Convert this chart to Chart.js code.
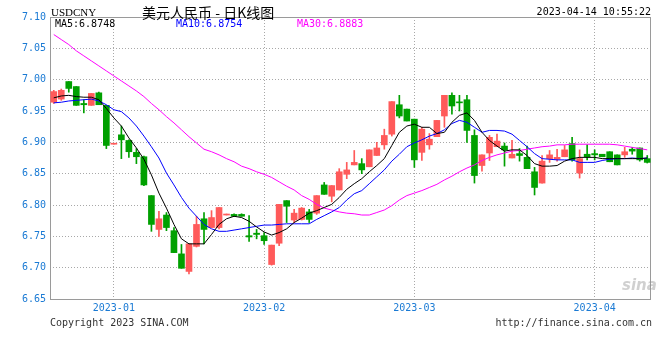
<!DOCTYPE html>
<html>
<head>
<meta charset="utf-8">
<script src="https://cdn.jsdelivr.net/npm/chart.js@4.4.1/dist/chart.umd.min.js"></script>
<style>
  html, body { margin: 0; padding: 0; background: #fff; }
  #wrap { position: relative; width: 660px; height: 360px; overflow: hidden; }
  #wrap canvas { position: absolute; left: 0; top: 0; }
  .txt { position: absolute; white-space: nowrap; font-family: "DejaVu Sans Mono", monospace; font-size: 10px; line-height: 12px; color: #000; }
</style>
</head>
<body>
<div id="wrap">
  <canvas id="chart-kline" width="660" height="360"></canvas>
  <div class="txt" style="left:51px;top:6px;font-family:'Liberation Serif',serif;font-size:11px;">USDCNY</div>
  <div class="txt" style="left:142px;top:4px;font-family:'Noto Sans CJK SC',sans-serif;font-size:14px;line-height:16px;">美元人民币 - 日K线图</div>
  <div class="txt" style="right:9px;top:6px;">2023-04-14 10:55:22</div>
  <div class="txt" id="ma5-label" style="left:55px;top:18px;color:#000;"></div>
  <div class="txt" id="ma10-label" style="left:176px;top:18px;color:#0000ff;"></div>
  <div class="txt" id="ma30-label" style="left:297px;top:18px;color:#ff00ff;"></div>
  <div class="txt" style="left:622px;top:279px;font-family:'DejaVu Sans',sans-serif;font-size:15px;font-weight:bold;font-style:italic;color:rgba(150,150,150,0.45);">sina</div>
  <div class="txt" style="left:50px;top:317px;color:#333;">Copyright 2023 SINA.COM</div>
  <div class="txt" style="right:8px;top:317px;color:#333;">http://finance.sina.com.cn</div>
</div>
<script>
(function() {
  // trading days shown (Dec 2022 .. Apr 2023), one candle each
  const days = [
    '12-21','12-22','12-23','12-26','12-27','12-28','12-29','12-30',
    '01-03','01-04','01-05','01-06','01-09','01-10','01-11','01-12','01-13','01-16',
    '01-17','01-18','01-19','01-20','01-26','01-27','01-28','01-29','01-30','01-31',
    '02-01','02-02','02-03','02-06','02-07','02-08','02-09','02-10','02-13','02-14',
    '02-15','02-16','02-17','02-20','02-21','02-22','02-23','02-24','02-27','02-28',
    '03-01','03-02','03-03','03-06','03-07','03-08','03-09','03-10','03-13','03-14',
    '03-15','03-16','03-17','03-20','03-21','03-22','03-23','03-24','03-27','03-28',
    '03-29','03-30','03-31','03-31b',
    '04-03','04-04','04-06','04-07','04-10','04-11','04-12','04-13'
  ];

  const openP = [
    6.964, 6.969, 6.997, 6.989, 6.962, 6.959, 6.979, 6.959, 6.897, 6.912,
    6.903, 6.884, 6.877, 6.815, 6.761, 6.784, 6.759, 6.722, 6.694, 6.734,
    6.778, 6.764, 6.764, 6.784, 6.785, 6.785, 6.751, 6.755, 6.751, 6.705,
    6.739, 6.807, 6.776, 6.777, 6.789, 6.787, 6.832, 6.814, 6.824, 6.849,
    6.864, 6.866, 6.861, 6.879, 6.896, 6.913, 6.960, 6.953, 6.937, 6.884,
    6.896, 6.909, 6.942, 6.975, 6.964, 6.968, 6.911, 6.863, 6.883, 6.893,
    6.894, 6.875, 6.882, 6.876, 6.853, 6.835, 6.874, 6.873, 6.877, 6.898,
    6.851, 6.881, 6.882, 6.881, 6.885, 6.880, 6.880, 6.889, 6.891, 6.874
  ];
  const highP = [
    6.983, 6.985, 6.997, 6.989, 6.968, 6.978, 6.980, 6.959, 6.898, 6.926,
    6.904, 6.890, 6.878, 6.815, 6.790, 6.788, 6.764, 6.737, 6.738, 6.782,
    6.788, 6.791, 6.796, 6.785, 6.786, 6.786, 6.783, 6.761, 6.756, 6.736,
    6.801, 6.807, 6.793, 6.796, 6.793, 6.815, 6.836, 6.831, 6.858, 6.868,
    6.887, 6.874, 6.888, 6.900, 6.921, 6.965, 6.975, 6.953, 6.937, 6.924,
    6.914, 6.935, 6.975, 6.979, 6.975, 6.975, 6.920, 6.880, 6.911, 6.913,
    6.899, 6.903, 6.890, 6.894, 6.860, 6.879, 6.887, 6.889, 6.895, 6.908,
    6.888, 6.896, 6.888, 6.881, 6.885, 6.880, 6.892, 6.892, 6.891, 6.879
  ];
  const lowP = [
    6.962, 6.967, 6.980, 6.959, 6.947, 6.959, 6.960, 6.890, 6.897, 6.874,
    6.876, 6.866, 6.831, 6.758, 6.750, 6.759, 6.724, 6.699, 6.690, 6.733,
    6.738, 6.764, 6.762, 6.784, 6.782, 6.782, 6.742, 6.746, 6.737, 6.704,
    6.735, 6.772, 6.772, 6.776, 6.772, 6.785, 6.817, 6.805, 6.824, 6.842,
    6.864, 6.850, 6.861, 6.879, 6.889, 6.910, 6.939, 6.934, 6.860, 6.871,
    6.889, 6.909, 6.924, 6.945, 6.950, 6.900, 6.835, 6.854, 6.871, 6.893,
    6.862, 6.875, 6.870, 6.858, 6.816, 6.835, 6.868, 6.870, 6.877, 6.870,
    6.843, 6.872, 6.872, 6.877, 6.869, 6.864, 6.876, 6.881, 6.870, 6.867
  ];
  const closeP = [
    6.981, 6.983, 6.986, 6.959, 6.960, 6.978, 6.960, 6.895, 6.898, 6.904,
    6.885, 6.877, 6.832, 6.769, 6.778, 6.764, 6.724, 6.699, 6.738, 6.769,
    6.761, 6.780, 6.796, 6.785, 6.782, 6.782, 6.749, 6.753, 6.743, 6.736,
    6.801, 6.798, 6.787, 6.795, 6.777, 6.815, 6.817, 6.831, 6.853, 6.856,
    6.868, 6.856, 6.888, 6.891, 6.911, 6.965, 6.942, 6.934, 6.872, 6.921,
    6.905, 6.935, 6.975, 6.958, 6.963, 6.919, 6.847, 6.880, 6.908, 6.902,
    6.888, 6.881, 6.879, 6.858, 6.828, 6.870, 6.880, 6.876, 6.888, 6.872,
    6.874, 6.877, 6.880, 6.877, 6.869, 6.864, 6.885, 6.886, 6.872, 6.868
  ];

  // moving averages as drawn on the chart (they include days before the window)
  const ma5 = [
    6.971, 6.974, 6.975, 6.973, 6.972, 6.972, 6.968, 6.954, 6.939, 6.926,
    6.907, 6.891, 6.873, 6.848, 6.819, 6.795, 6.769, 6.746, 6.738, 6.738,
    6.738, 6.753, 6.769, 6.778, 6.782, 6.780, 6.774, 6.765, 6.757, 6.752,
    6.756, 6.762, 6.772, 6.779, 6.787, 6.791, 6.796, 6.801, 6.812, 6.825,
    6.834, 6.842, 6.853, 6.863, 6.874, 6.895, 6.916, 6.926, 6.929, 6.924,
    6.924, 6.914, 6.916, 6.932, 6.943, 6.947, 6.935, 6.916, 6.903, 6.894,
    6.886, 6.888, 6.888, 6.879, 6.866, 6.862, 6.862, 6.863, 6.870, 6.874,
    6.876, 6.876, 6.876, 6.874, 6.874, 6.874, 6.874, 6.874, 6.874, 6.875
  ];
  const ma10 = [
    6.963, 6.964, 6.966, 6.967, 6.968, 6.969, 6.966, 6.960, 6.952, 6.949,
    6.939, 6.926, 6.910, 6.893, 6.875, 6.851, 6.832, 6.812, 6.795, 6.782,
    6.769, 6.762, 6.758, 6.758, 6.760, 6.762, 6.764, 6.766, 6.768, 6.768,
    6.769, 6.770, 6.770, 6.770, 6.770, 6.777, 6.783, 6.789, 6.796, 6.808,
    6.818, 6.823, 6.834, 6.845, 6.856, 6.870, 6.881, 6.893, 6.899, 6.904,
    6.910, 6.914, 6.920, 6.930, 6.935, 6.932, 6.924, 6.916, 6.919, 6.919,
    6.918, 6.913, 6.903, 6.893, 6.882, 6.874, 6.873, 6.872, 6.872, 6.872,
    6.868, 6.868, 6.868, 6.871, 6.873, 6.874, 6.874, 6.875, 6.874, 6.875
  ];
  const ma30 = [
    7.072, 7.064, 7.056, 7.046, 7.038, 7.030, 7.022, 7.014, 7.006, 6.998,
    6.990, 6.982, 6.973, 6.962, 6.952, 6.941, 6.931, 6.920, 6.909, 6.899,
    6.889, 6.885, 6.880, 6.874, 6.869, 6.862, 6.858, 6.853, 6.849, 6.844,
    6.837, 6.830, 6.824, 6.815, 6.809, 6.801, 6.795, 6.792, 6.789, 6.787,
    6.786, 6.784, 6.784, 6.788, 6.792, 6.799, 6.808, 6.815, 6.819, 6.823,
    6.828, 6.833, 6.840, 6.846, 6.853, 6.859, 6.864, 6.871, 6.876, 6.880,
    6.883, 6.886, 6.887, 6.889, 6.891, 6.893, 6.894, 6.896, 6.896, 6.897,
    6.897, 6.897, 6.897, 6.897, 6.897, 6.896, 6.894, 6.892, 6.890, 6.888
  ];

  // legend values shown in the header
  const maLegend = ['MA5:6.8748', 'MA10:6.8754', 'MA30:6.8883'];

  // month ticks on the x axis (index of the first candle of each month)
  const monthTickIdx = [8, 28, 48, 72];
  const monthTickLabels = ['2023-01', '2023-02', '2023-03', '2023-04'];

  const UP = '#ff5a5a';
  const DOWN = '#00a000';
  const AXIS_TXT = '#1a7ad4';
  const GRID = '#a8a8a8';

  document.getElementById('ma5-label').textContent = maLegend[0];
  document.getElementById('ma10-label').textContent = maLegend[1];
  document.getElementById('ma30-label').textContent = maLegend[2];

  const candleColor = closeP.map((c, i) => (c >= openP[i] ? UP : DOWN));
  const bodies = openP.map((o, i) => [o, closeP[i]]);
  const wicks = lowP.map((l, i) => [l, highP[i]]);

  const framePlugin = {
    id: 'frame',
    beforeDatasetsDraw(chart) {
      const a = chart.chartArea;
      const ctx = chart.ctx;
      ctx.save();
      ctx.strokeStyle = '#9a9a9a';
      ctx.lineWidth = 1;
      ctx.strokeRect(Math.round(a.left) + 0.5, Math.round(a.top) + 0.5, Math.round(a.right - a.left) - 1, Math.round(a.bottom - a.top));
      ctx.restore();
    }
  };

  const ctx = document.getElementById('chart-kline').getContext('2d');
  new Chart(ctx, {
    type: 'bar',
    data: {
      labels: days,
      datasets: [
        { type: 'line', label: 'MA5', data: ma5, borderColor: '#000000', borderWidth: 1, pointRadius: 0, tension: 0, order: 1 },
        { type: 'line', label: 'MA10', data: ma10, borderColor: '#0000ff', borderWidth: 1, pointRadius: 0, tension: 0, order: 1 },
        { type: 'line', label: 'MA30', data: ma30, borderColor: '#ff00ff', borderWidth: 1, pointRadius: 0, tension: 0, order: 1 },
        { label: 'body', data: bodies, backgroundColor: candleColor, borderWidth: 0, barThickness: 6, minBarLength: 1, grouped: false, order: 2 },
        { label: 'wick', data: wicks, backgroundColor: candleColor, borderWidth: 0, barThickness: 1, minBarLength: 1, grouped: false, order: 3 }
      ]
    },
    options: {
      responsive: false,
      animation: false,
      layout: { padding: { top: 17, right: 9, left: 0, bottom: 0 } },
      plugins: { legend: { display: false }, tooltip: { enabled: false } },
      scales: {
        x: {
          type: 'category',
          offset: true,
          afterBuildTicks: s => { s.ticks = s.ticks.filter(t => monthTickIdx.includes(t.value)); },
          afterFit: s => { s.height = 61; },
          grid: { offset: false, drawTicks: false, color: GRID },
          border: { display: false, dash: [1, 2] },
          ticks: {
            autoSkip: false, maxRotation: 0, padding: 3, color: AXIS_TXT,
            font: { family: 'DejaVu Sans Mono', size: 10 },
            callback: v => monthTickLabels[monthTickIdx.indexOf(v)]
          }
        },
        y: {
          min: 6.65, max: 7.10,
          afterFit: s => { s.width = 50; },
          grid: { drawTicks: false, color: GRID },
          border: { display: false, dash: [1, 2] },
          ticks: {
            stepSize: 0.05, padding: 4, color: AXIS_TXT,
            font: { family: 'DejaVu Sans Mono', size: 10 },
            callback: v => v.toFixed(2)
          }
        }
      }
    },
    plugins: [framePlugin]
  });
})();
</script>
</body>
</html>
